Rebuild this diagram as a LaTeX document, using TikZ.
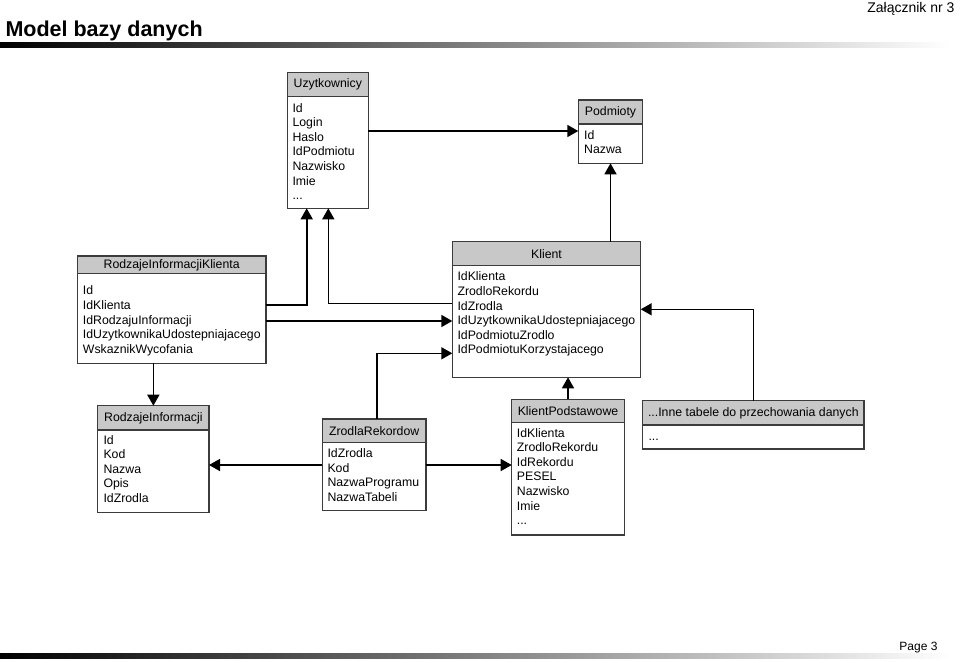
\documentclass[tikz,border=0pt]{standalone}
\usepackage{fontspec}
\setmainfont{Liberation Sans}
\usetikzlibrary{arrows.meta}
\definecolor{headgray}{RGB}{200,200,200}
\definecolor{framegray}{RGB}{60,60,60}
\begin{document}
\begin{tikzpicture}[x=1pt,y=-1pt,
	tabhead/.style={draw=framegray,line width=1.2pt,fill=headgray,anchor=north west,inner sep=0pt,outer sep=0pt,font=\fontsize{12.3}{14.6}\selectfont},
	tabbody/.style={draw=framegray,line width=1.2pt,fill=white,anchor=north west,inner sep=0pt,outer sep=0pt},
	fields/.style={anchor=north west,align=left,inner sep=0pt,font=\fontsize{12.3}{14.6}\selectfont,execute at begin node=\strut},
	link/.style={line width=1.6pt,-{Triangle[length=11pt,width=12pt]}}]
		\useasboundingbox (0,0) rectangle (960,661);
		\node[anchor=base west,font=\fontsize{21.5}{24}\selectfont\bfseries] (title) at (2,36.5) {Model bazy danych};
		\node[anchor=base east,font=\fontsize{14}{16}\selectfont] (annex) at (958,13) {Załącznik nr 3};
		\node[anchor=base east,font=\fontsize{12}{14}\selectfont] (page) at (941,650.5) {Page 3};
		\shade[left color=black,right color=white] (0,42.5) rectangle (950,47.5);
		\shade[left color=black,right color=white] (0,653) rectangle (950,658);
		\node[tabhead,minimum width=81pt,minimum height=24.4pt] (uzyt-h) at (287.3,72.3) {Uzytkownicy};
		\node[tabbody,minimum width=81pt,minimum height=111.6pt] (uzyt) at (uzyt-h.south west) {};
		\node[fields] (uzyt-f) at (292.3,103) {Id\\Login\\Haslo\\IdPodmiotu\\Nazwisko\\Imie\\...};
		\node[tabhead,minimum width=64.4pt,minimum height=24pt] (podm-h) at (578.3,100) {Podmioty};
		\node[tabbody,minimum width=64.4pt,minimum height=39.3pt] (podm) at (podm-h.south west) {};
		\node[fields] (podm-f) at (584,130) {Id\\Nazwa};
		\node[tabhead,minimum width=188.7pt,minimum height=17.3pt,text depth=1.5pt] (rik-h) at (77.3,256) {RodzajeInformacjiKlienta};
		\node[tabbody,minimum width=188.7pt,minimum height=90pt] (rik) at (rik-h.south west) {};
		\node[fields] (rik-f) at (82.7,285.7) {Id\\IdKlienta\\IdRodzajuInformacji\\IdUzytkownikaUdostepniajacego\\WskaznikWycofania};
		\node[tabhead,minimum width=188.4pt,minimum height=24pt] (klient-h) at (452.3,241.7) {Klient};
		\node[tabbody,minimum width=188.4pt,minimum height=111.6pt] (klient) at (klient-h.south west) {};
		\node[fields] (klient-f) at (457.3,271.7) {IdKlienta\\ZrodloRekordu\\IdZrodla\\IdUzytkownikaUdostepniajacego\\IdPodmiotuZrodlo\\IdPodmiotuKorzystajacego};
		\node[tabhead,minimum width=111.3pt,minimum height=24.3pt] (ri-h) at (97.7,405.7) {RodzajeInformacji};
		\node[tabbody,minimum width=111.3pt,minimum height=82.7pt] (ri) at (ri-h.south west) {};
		\node[fields] (ri-f) at (103.3,435) {Id\\Kod\\Nazwa\\Opis\\IdZrodla};
		\node[tabhead,minimum width=103.7pt,minimum height=23.7pt] (zr-h) at (322.3,419) {ZrodlaRekordow};
		\node[tabbody,minimum width=103.7pt,minimum height=68pt] (zr) at (zr-h.south west) {};
		\node[fields] (zr-f) at (327.3,448.3) {IdZrodla\\Kod\\NazwaProgramu\\NazwaTabeli};
		\node[tabhead,minimum width=112.6pt,minimum height=23.4pt] (kp-h) at (511.7,399.3) {KlientPodstawowe};
		\node[tabbody,minimum width=112.6pt,minimum height=112.3pt] (kp) at (kp-h.south west) {};
		\node[fields] (kp-f) at (516.7,428) {IdKlienta\\ZrodloRekordu\\IdRekordu\\PESEL\\Nazwisko\\Imie\\...};
		\node[tabhead,minimum width=221.3pt,minimum height=24.3pt] (inne-h) at (642.7,400.7) {...Inne tabele do przechowania danych};
		\node[tabbody,minimum width=221.3pt,minimum height=24pt] (inne) at (inne-h.south west) {};
		\node[fields] (inne-f) at (648.3,430.3) {...};
		\coordinate (lvlA) at (0,131);
		\coordinate (lvlB) at (0,321);
		\coordinate (lvlC) at (0,465);
		\coordinate (bendA) at (306.7,305);
		\coordinate (bendB) at (328.3,303.3);
		\coordinate (bendC) at (753.3,309.3);
		\coordinate (bendD) at (376.7,353.3);
		\draw[link] (uzyt.east |- lvlA) -- (podm.west |- lvlA);
		\draw[link] (podm.south |- klient-h.north) -- (podm.south);
		\draw[link] (rik.east |- bendA) -| (uzyt.south -| bendA);
		\draw[link] (klient.west |- bendB) -| (uzyt.south -| bendB);
		\draw[link] (rik.east |- lvlB) -- (klient.west |- lvlB);
		\draw[link] (inne-h.north -| bendC) |- (klient.east |- bendC);
		\draw[link] (zr-h.north -| bendD) |- (klient.west |- bendD);
		\draw[link] (kp-h.north) -- (kp-h.north |- klient.south);
		\draw[link] (ri-h.north |- rik.south) -- (ri-h.north);
		\draw[link] (zr.west |- lvlC) -- (ri.east |- lvlC);
		\draw[link] (zr.east |- lvlC) -- (kp.west |- lvlC);
	\end{tikzpicture}
\end{document}
